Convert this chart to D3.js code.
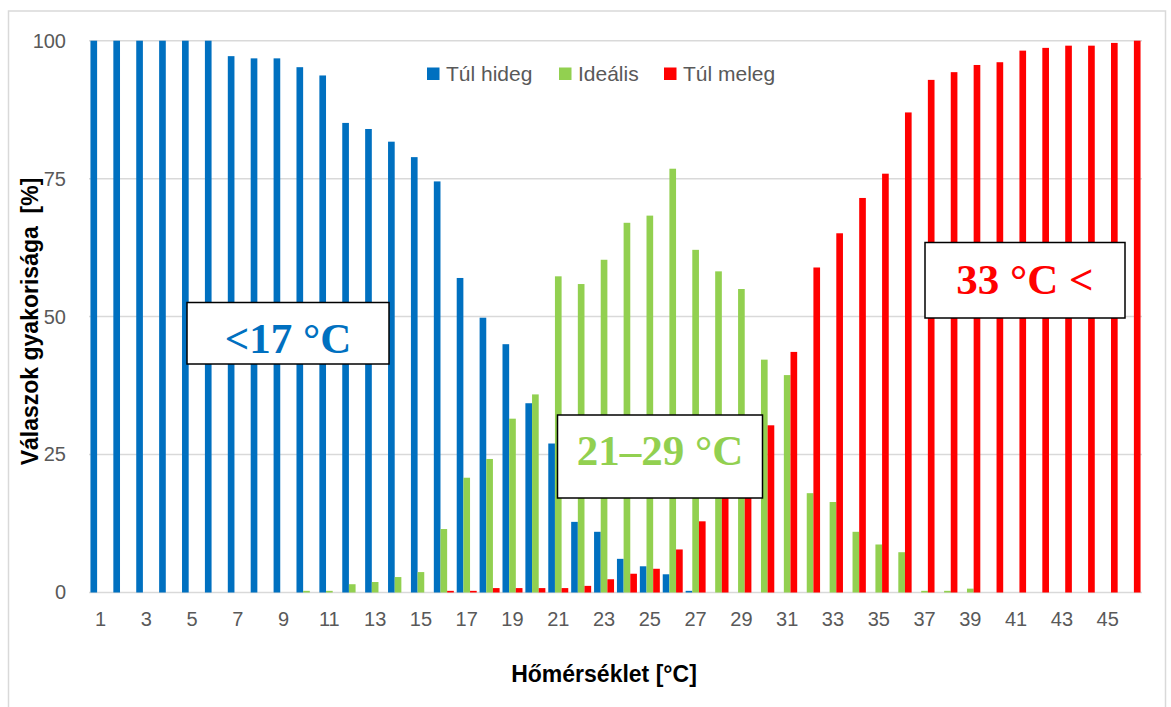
<!DOCTYPE html>
<html>
<head>
<meta charset="utf-8">
<script src="https://cdn.jsdelivr.net/npm/d3@7"></script>
<style>
  body { margin: 0; background: #fff; }
  svg { display: block; }
</style>
</head>
<body>
<div id="chart"></div>
<script>
// categories: temperature in °C
const temps = d3.range(1, 47);

// Túl hideg (too cold) [%]
const tooCold = [100, 100, 100, 100, 100, 100, 97.2, 96.8, 96.8, 95.2,
	93.7, 85.1, 84.0, 81.7, 78.9, 74.5, 57.0, 49.8, 45.0, 34.3,
	27.0, 12.8, 11.0, 6.1, 4.75, 3.3, 0.3, 0, 0, 0,
	0, 0, 0, 0, 0, 0, 0, 0, 0, 0,
	0, 0, 0, 0, 0, 0];

// Ideális (ideal) [%]
const ideal = [0, 0, 0, 0, 0, 0, 0, 0, 0, 0.3,
	0.3, 1.5, 1.9, 2.8, 3.7, 11.5, 20.8, 24.2, 31.5, 35.9,
	57.3, 55.9, 60.3, 67.0, 68.3, 76.8, 62.1, 58.2, 55.0, 42.2,
	39.4, 18.0, 16.4, 11.0, 8.7, 7.3, 0.3, 0.3, 0.7, 0,
	0, 0, 0, 0, 0, 0];

// Túl meleg (too warm) [%]
const tooWarm = [0, 0, 0, 0, 0, 0, 0, 0, 0, 0,
	0, 0, 0, 0, 0, 0.3, 0.3, 0.8, 0.8, 0.8,
	0.8, 1.2, 2.4, 3.4, 4.3, 7.8, 12.9, 20, 24, 30.3,
	43.6, 58.9, 65.1, 71.5, 75.9, 87.0, 92.9, 94.3, 95.6, 96.1,
	98.2, 98.7, 99.1, 99.1, 99.6, 100];

const seriesNames = ["Túl hideg", "Ideális", "Túl meleg"];
const seriesColors = ["#0070C0", "#92D050", "#FF0000"];
const yTicks = [0, 25, 50, 75, 100];
const xTickLabels = temps.filter(t => t % 2 === 1);

// range annotations
const zoneLabels = ["<17 °C", "21–29 °C", "33 °C <"];

const width = 1171, height = 707;
const margin = { top: 40.7, right: 29, bottom: 114.5, left: 89 };

const svg = d3.select("#chart").append("svg")
	.attr("width", width)
	.attr("height", height);

// outer chart border
svg.append("rect")
	.attr("x", 8.5).attr("y", 11)
	.attr("width", 1157).attr("height", 710)
	.attr("fill", "none")
	.attr("stroke", "#d9d9d9")
	.attr("stroke-width", 1.5);

const x = d3.scaleBand()
	.domain(temps)
	.range([margin.left, width - margin.right])
	.paddingInner(0.127)
	.paddingOuter(0.0635);

const x1 = d3.scaleBand()
	.domain(seriesNames)
	.range([0, x.bandwidth()]);

const y = d3.scaleLinear()
	.domain([0, 100])
	.range([height - margin.bottom, margin.top]);

// gridlines
svg.append("g")
	.selectAll("line")
	.data(yTicks)
	.join("line")
	.attr("x1", margin.left)
	.attr("x2", width - margin.right)
	.attr("y1", d => y(d))
	.attr("y2", d => y(d))
	.attr("stroke", "#d9d9d9")
	.attr("stroke-width", 1.5);

// y axis labels
const yAxis = d3.axisLeft(y).tickValues(yTicks).tickSize(0).tickPadding(0);
svg.append("g")
	.attr("transform", "translate(66," + 0 + ")")
	.call(yAxis)
	.call(g => g.select(".domain").remove())
	.selectAll("text")
	.attr("fill", "#595959")
	.attr("font-family", "'Liberation Sans', Arial, sans-serif")
	.attr("font-size", 20);

// x axis labels
const xAxis = d3.axisBottom(x).tickValues(xTickLabels).tickSize(0).tickPadding(0);
svg.append("g")
	.attr("transform", "translate(0," + 612 + ")")
	.call(xAxis)
	.call(g => g.select(".domain").remove())
	.selectAll("text")
	.attr("fill", "#595959")
	.attr("font-family", "'Liberation Sans', Arial, sans-serif")
	.attr("font-size", 20);

// bars
const allSeries = [tooCold, ideal, tooWarm];
const barData = [];
allSeries.forEach((vals, si) => {
	vals.forEach((v, i) => {
		if (v > 0) barData.push({ temp: temps[i], series: seriesNames[si], color: seriesColors[si], value: v });
	});
});

svg.append("g")
	.selectAll("rect")
	.data(barData)
	.join("rect")
	.attr("x", d => x(d.temp) + x1(d.series))
	.attr("width", x1.bandwidth())
	.attr("y", d => y(d.value))
	.attr("height", d => y(0) - y(d.value))
	.attr("fill", d => d.color);

// legend
const legendX = [427, 559, 664];
const legend = svg.append("g");
seriesNames.forEach((name, i) => {
	legend.append("rect")
		.attr("x", legendX[i]).attr("y", 67.5)
		.attr("width", 12.5).attr("height", 12.5)
		.attr("fill", seriesColors[i]);
	legend.append("text")
		.attr("x", legendX[i] + 19).attr("y", 80.5)
		.attr("fill", "#595959")
		.attr("font-family", "'Liberation Sans', Arial, sans-serif")
		.attr("font-size", 21)
		.text(name);
});

// axis titles
svg.append("text")
	.attr("x", 604).attr("y", 682)
	.attr("text-anchor", "middle")
	.attr("font-family", "'Liberation Sans', Arial, sans-serif")
	.attr("font-weight", "bold")
	.attr("font-size", 23)
	.attr("fill", "#000")
	.text("Hőmérséklet [°C]");

svg.append("text")
	.attr("transform", "translate(38,321.5) rotate(-90)")
	.attr("text-anchor", "middle")
	.attr("font-family", "'Liberation Sans', Arial, sans-serif")
	.attr("font-weight", "bold")
	.attr("font-size", 23)
	.attr("fill", "#000")
	.style("white-space", "pre")
	.text("Válaszok gyakorisága  [%]");

// zone annotation boxes
const boxes = [
	{ x0: 187, x1: 389, y0: 302.5, y1: 364, base: 352.5 },
	{ x0: 557.5, x1: 762.5, y0: 415, y1: 498, base: 465 },
	{ x0: 925, x1: 1125, y0: 242.5, y1: 318, base: 293.5 }
];
boxes.forEach((b, i) => {
	svg.append("rect")
		.attr("x", b.x0).attr("y", b.y0)
		.attr("width", b.x1 - b.x0).attr("height", b.y1 - b.y0)
		.attr("fill", "#fff")
		.attr("stroke", "#000")
		.attr("stroke-width", 1.5);
	svg.append("text")
		.attr("x", (b.x0 + b.x1) / 2).attr("y", b.base)
		.attr("text-anchor", "middle")
		.attr("font-family", "'Liberation Serif', 'Times New Roman', serif")
		.attr("font-weight", "bold")
		.attr("font-size", 43)
		.attr("fill", seriesColors[i])
		.text(zoneLabels[i]);
});
</script>
</body>
</html>
